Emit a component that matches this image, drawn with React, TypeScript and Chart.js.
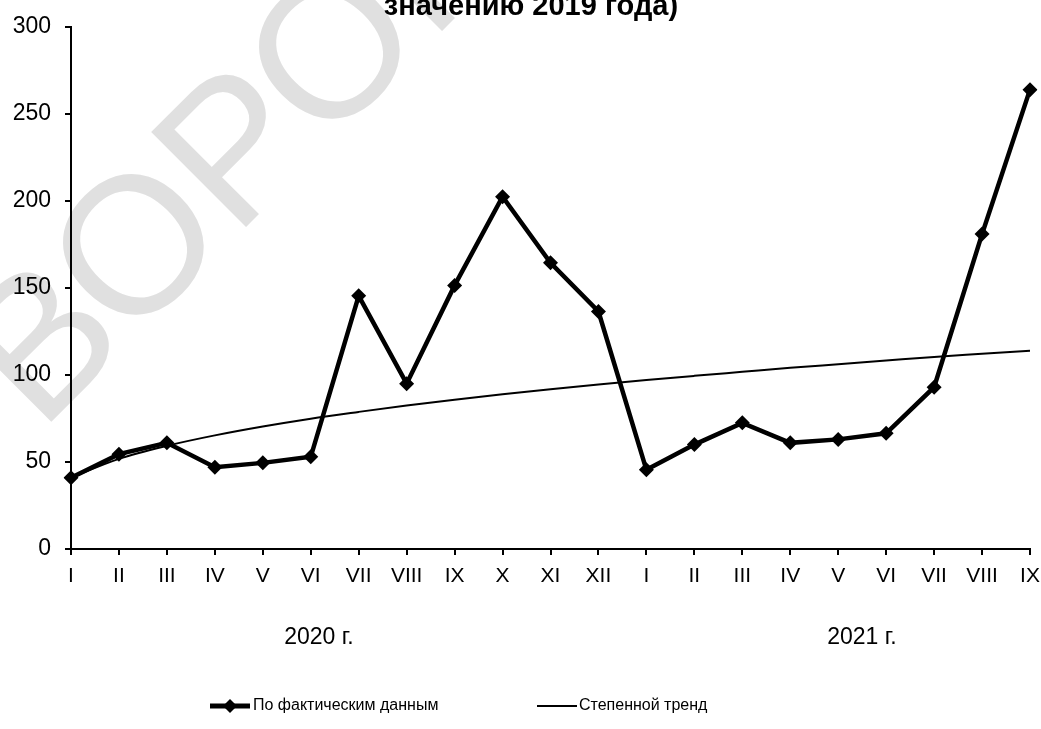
import React, { useEffect, useRef } from "react";
import { Chart, registerables } from "chart.js";

Chart.register(...registerables);

const months2020 = ["I", "II", "III", "IV", "V", "VI", "VII", "VIII", "IX", "X", "XI", "XII"];
const months2021 = ["I", "II", "III", "IV", "V", "VI", "VII", "VIII", "IX"];
const categories = [...months2020, ...months2021];

const actualValues = [41, 54.5, 61, 47, 49.5, 53, 145.5, 95, 151.5, 202.5, 164.5, 136.5, 45.5, 60, 72.5, 61, 63, 66.5, 93, 181, 264];
const trendValues = [41, 51.8, 59.3, 65.3, 70.4, 74.9, 78.8, 82.5, 85.8, 88.9, 91.8, 94.5, 97.1, 99.5, 101.8, 104.1, 106.2, 108.3, 110.4, 112.2, 114];

const yTicks = [0, 50, 100, 150, 200, 250, 300];
const yearLabels = ["2020 г.", "2021 г."];
const seriesNames = ["По фактическим данным", "Степенной тренд"];
const titleText = "значению 2019 года)";
const watermarkText = "ВОРОНЕЖ";

const FONT = '"Liberation Sans", Arial, sans-serif';

export default function App() {
  const ref = useRef<HTMLCanvasElement | null>(null);

  useEffect(() => {
    const canvas = ref.current;
    if (!canvas) return;

    const decor = {
      id: "decor",
      beforeDraw(chart: any) {
        const ctx = chart.ctx;
        ctx.save();
        ctx.fillStyle = "#ffffff";
        ctx.fillRect(0, 0, chart.width, chart.height);
        // watermark
        ctx.translate(40, 433);
        ctx.rotate(-Math.PI / 4);
        ctx.font = `195px ${FONT}`;
        ctx.fillStyle = "#e0e0e0";
        ctx.textBaseline = "alphabetic";
        ctx.fillText(watermarkText, 0, 0);
        ctx.restore();
      },
      afterDraw(chart: any) {
        const ctx = chart.ctx;
        ctx.save();
        // title
        ctx.fillStyle = "#000";
        ctx.font = `bold 29px ${FONT}`;
        ctx.textAlign = "center";
        ctx.textBaseline = "alphabetic";
        ctx.fillText(titleText, 531, 15);
        // year labels
        ctx.font = `23px ${FONT}`;
        ctx.fillText(yearLabels[0], 319, 644);
        ctx.fillText(yearLabels[1], 862, 644);
        // legend
        const ly = 706;
        ctx.strokeStyle = "#000";
        ctx.lineWidth = 5;
        ctx.beginPath();
        ctx.moveTo(210, ly);
        ctx.lineTo(250, ly);
        ctx.stroke();
        ctx.fillStyle = "#000";
        ctx.beginPath();
        ctx.moveTo(230, ly - 7);
        ctx.lineTo(237, ly);
        ctx.lineTo(230, ly + 7);
        ctx.lineTo(223, ly);
        ctx.closePath();
        ctx.fill();
        ctx.lineWidth = 2;
        ctx.beginPath();
        ctx.moveTo(537, ly);
        ctx.lineTo(577, ly);
        ctx.stroke();
        ctx.font = `16px ${FONT}`;
        ctx.textAlign = "left";
        ctx.textBaseline = "middle";
        ctx.fillText(seriesNames[0], 253, ly);
        ctx.fillText(seriesNames[1], 579, ly);
        ctx.restore();
      },
    };

    const chart = new Chart(canvas, {
      type: "line",
      data: {
        labels: categories,
        datasets: [
          {
            label: seriesNames[1],
            data: trendValues,
            borderColor: "#000",
            borderWidth: 2,
            pointRadius: 0,
            cubicInterpolationMode: "monotone",
            fill: false,
          },
          {
            label: seriesNames[0],
            data: actualValues,
            borderColor: "#000",
            backgroundColor: "#000",
            borderWidth: 4.5,
            pointStyle: "rectRot",
            pointRadius: 7.5,
            pointBorderWidth: 0,
            pointBackgroundColor: "#000",
            tension: 0,
            fill: false,
          },
        ],
      },
      options: {
        responsive: false,
        animation: false,
        layout: { padding: { top: 27, right: 11, left: 0, bottom: 0 } },
        plugins: {
          legend: { display: false },
          tooltip: { enabled: false },
          title: { display: false },
        },
        scales: {
          x: {
            type: "category",
            offset: false,
            grid: { drawOnChartArea: false, drawTicks: true, tickLength: 6, color: "#000", lineWidth: 2 },
            border: { display: true, color: "#000", width: 2 },
            ticks: {
              autoSkip: false,
              maxRotation: 0,
              minRotation: 0,
              color: "#000",
              font: { family: FONT, size: 21 },
              padding: 9,
            },
            afterFit: (s: any) => {
              s.height = 180;
              s.paddingLeft = 0;
              s.paddingRight = 0;
            },
          },
          y: {
            min: 0,
            max: 300,
            afterBuildTicks: (s: any) => {
              s.ticks = yTicks.map((v) => ({ value: v }));
            },
            grid: { drawOnChartArea: false, drawTicks: true, tickLength: 6, color: "#000", lineWidth: 2 },
            border: { display: true, color: "#000", width: 2 },
            ticks: {
              color: "#000",
              font: { family: FONT, size: 23 },
              padding: 14,
            },
            afterFit: (s: any) => {
              s.width = 71;
              s.paddingTop = 0;
              s.paddingBottom = 0;
            },
          },
        },
      },
      plugins: [decor],
    });

    return () => chart.destroy();
  }, []);

  return (
    <div style={{ position: "absolute", left: 0, top: 0, width: 1041, height: 729 }}>
      <canvas ref={ref} width={1041} height={729} style={{ display: "block" }} />
    </div>
  );
}
